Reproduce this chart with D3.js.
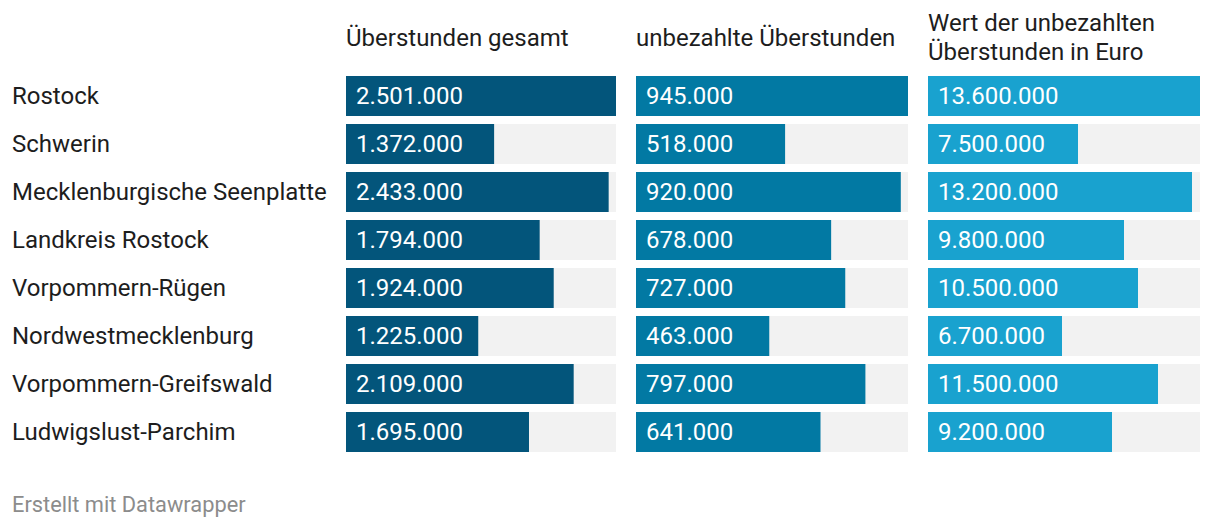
<!DOCTYPE html>
<html>
<head>
<meta charset="utf-8">
<script src="https://cdn.jsdelivr.net/npm/d3@7"></script>
<style>
    body { margin: 0; background: #fff; }
    svg { font-family: Roboto, "Noto Sans", sans-serif; }
</style>
</head>
<body>
<svg id="chart" width="1220" height="528"></svg>
<script>
let regions = ["Rostock", "Schwerin", "Mecklenburgische Seenplatte", "Landkreis Rostock",
    "Vorpommern-Rügen", "Nordwestmecklenburg", "Vorpommern-Greifswald", "Ludwigslust-Parchim"];
let overtimeTotal = [2501000, 1372000, 2433000, 1794000, 1924000, 1225000, 2109000, 1695000];
let overtimeUnpaid = [945000, 518000, 920000, 678000, 727000, 463000, 797000, 641000];
let unpaidValueEuro = [13600000, 7500000, 13200000, 9800000, 10500000, 6700000, 11500000, 9200000];
let columnTitles = [["Überstunden gesamt"], ["unbezahlte Überstunden"], ["Wert der unbezahlten", "Überstunden in Euro"]];

let columns = [
    {title: columnTitles[0], values: overtimeTotal, color: "#03557b", x0: 346, x1: 616},
    {title: columnTitles[1], values: overtimeUnpaid, color: "#0279a3", x0: 636, x1: 908},
    {title: columnTitles[2], values: unpaidValueEuro, color: "#19a2cf", x0: 928, x1: 1200},
];

let fontSize = 24;
let svg = d3.select("#chart");
let fmt = d3.formatLocale({decimal: ",", thousands: ".", grouping: [3], currency: ["", "€"]}).format(",d");

// 40px bars, 48px pitch
let y = d3.scaleBand()
    .domain(regions)
    .range([76, 452])
    .paddingInner(8 / 48)
    .paddingOuter(0)
    .align(0);

// labels left
svg.append("g").selectAll("text")
    .data(regions)
    .join("text")
    .attr("x", 12)
    .attr("y", d => y(d) + y.bandwidth() / 2)
    .attr("dy", "0.35em")
    .attr("font-size", fontSize)
    .attr("fill", "#1d1d1d")
    .text(d => d);

for (let col of columns) {
    let x = d3.scaleLinear()
        .domain([0, d3.max(col.values)])
        .range([col.x0, col.x1]);
    let g = svg.append("g");

    // header
    let lines = col.title;
    let baseY = lines.length == 1 ? 46 : 31;
    g.selectAll("text.head")
        .data(lines)
        .join("text")
        .attr("class", "head")
        .attr("x", col.x0)
        .attr("y", (d, i) => baseY + i * 28.5)
        .attr("font-size", fontSize)
        .attr("fill", "#1d1d1d")
        .text(d => d);

    let rows = g.selectAll("g.row")
        .data(regions)
        .join("g")
        .attr("class", "row");

    rows.append("rect")
        .attr("x", col.x0)
        .attr("y", d => y(d))
        .attr("width", col.x1 - col.x0)
        .attr("height", y.bandwidth())
        .attr("fill", "#f2f2f2");

    rows.append("rect")
        .attr("x", col.x0)
        .attr("y", d => y(d))
        .attr("width", (d, i) => x(col.values[i]) - col.x0)
        .attr("height", y.bandwidth())
        .attr("fill", col.color);

    rows.append("text")
        .attr("x", col.x0 + 10)
        .attr("y", d => y(d) + y.bandwidth() / 2)
        .attr("dy", "0.35em")
        .attr("font-size", fontSize)
        .attr("fill", "#fff")
        .text((d, i) => fmt(col.values[i]));
}

svg.append("text")
    .attr("x", 12)
    .attr("y", 512)
    .attr("font-size", 21.8)
    .attr("fill", "#8c8c8c")
    .text("Erstellt mit Datawrapper");
</script>
</body>
</html>
